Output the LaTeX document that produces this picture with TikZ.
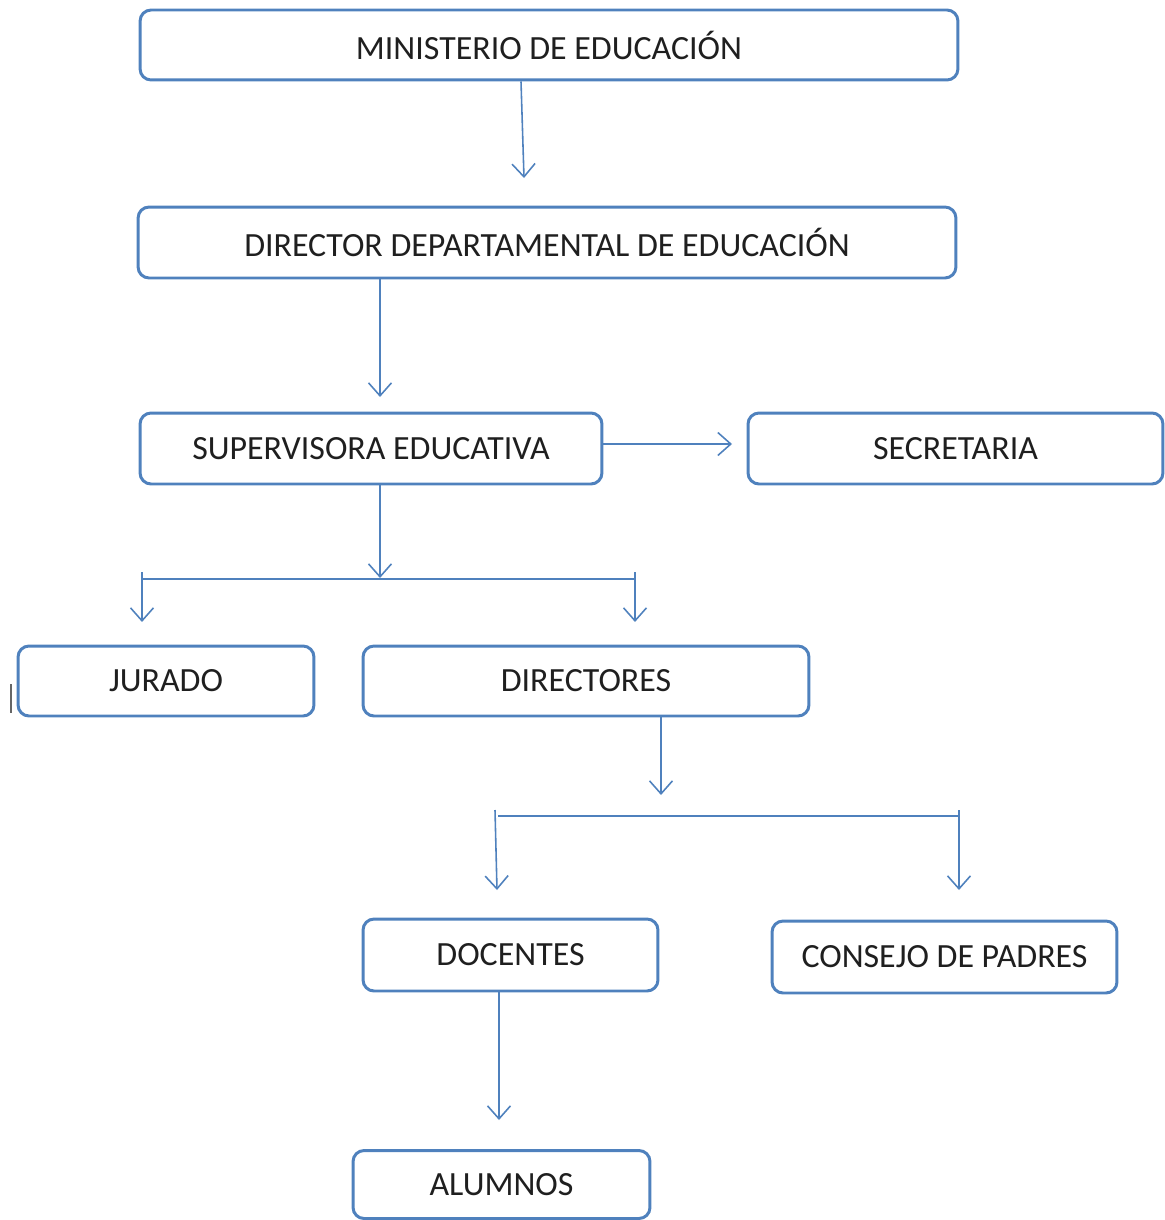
\documentclass[tikz,border=0pt]{standalone}
\usepackage{fontspec}
\setmainfont{Carlito}
\usetikzlibrary{arrows.meta}
\definecolor{boxblue}{HTML}{4F81BD}
\definecolor{txtgray}{HTML}{1F1F1F}

\begin{document}
\begin{tikzpicture}[x=0.02cm, y=-0.02cm,
  caja/.style={draw=boxblue, line width=1.7pt, rounded corners=0.22cm, inner sep=0pt,
    text=txtgray, font=\fontsize{19.3}{22}\selectfont},
  flecha/.style={draw=boxblue, line width=0.9pt, -{Straight Barb[length=2.6mm, width=4.6mm, line width=0.9pt]}},
  linea/.style={draw=boxblue, line width=0.9pt}]
\useasboundingbox (0,0) rectangle (1165,1220);

% cajas
\node[caja, minimum width=16.36cm, minimum height=1.40cm] (min) at (549,45) {MINISTERIO DE EDUCACIÓN};
\node[caja, minimum width=16.36cm, minimum height=1.42cm] (dir) at (547,242.5) {DIRECTOR DEPARTAMENTAL DE EDUCACIÓN};
\node[caja, minimum width=9.24cm, minimum height=1.42cm] (sup) at (371,448.5) {SUPERVISORA EDUCATIVA};
\node[caja, minimum width=8.30cm, minimum height=1.42cm] (sec) at (955.5,448.5) {SECRETARIA};
\node[caja, minimum width=5.92cm, minimum height=1.40cm] (jur) at (166,681) {JURADO};
\node[caja, minimum width=8.92cm, minimum height=1.40cm] (dirs) at (586,681) {DIRECTORES};
\node[caja, minimum width=5.90cm, minimum height=1.44cm] (doc) at (510.5,955) {DOCENTES};
\node[caja, minimum width=6.90cm, minimum height=1.44cm] (con) at (944.5,957) {CONSEJO DE PADRES};
\node[caja, minimum width=5.94cm, minimum height=1.36cm] (alu) at (501.5,1184.5) {ALUMNOS};

% puntos libres
\coordinate (p1) at (524,178);
\coordinate (p2) at (380,397);
\coordinate (p3) at (732,444);
\coordinate (p4) at (380,578);
\coordinate (b1) at (142,579);
\coordinate (b2) at (635,579);
\coordinate (p5) at (661,795);
\coordinate (c1) at (498,816);
\coordinate (c2) at (960,816);
\coordinate (d1) at (495,810);
\coordinate (d2) at (959,810);
\coordinate (p6) at (499,1120);

% conectores
\draw[flecha] (min.south -| 521,0) -- (p1);
\draw[flecha] (dir.south -| p2) -- (p2);
\draw[flecha] (sup.east |- p3) -- (p3);
\draw[flecha] (sup.south -| p4) -- (p4);
\draw[linea] (b1) -- (b2);
\draw[flecha] ([yshift=0.14cm]b1) -- ++(0,-1.0cm);
\draw[flecha] ([yshift=0.14cm]b2) -- ++(0,-1.0cm);
\draw[flecha] (dirs.south -| p5) -- (p5);
\draw[linea] (c1) -- (c2);
\draw[flecha] (d1) -- ++(2,80);
\draw[flecha] (d2) -- ++(0,80);
\draw[flecha] (doc.south -| p6) -- (p6);

% cursor
\draw[gray!80!black, line width=1pt] (11,684) -- (11,713);
\end{tikzpicture}
\end{document}
